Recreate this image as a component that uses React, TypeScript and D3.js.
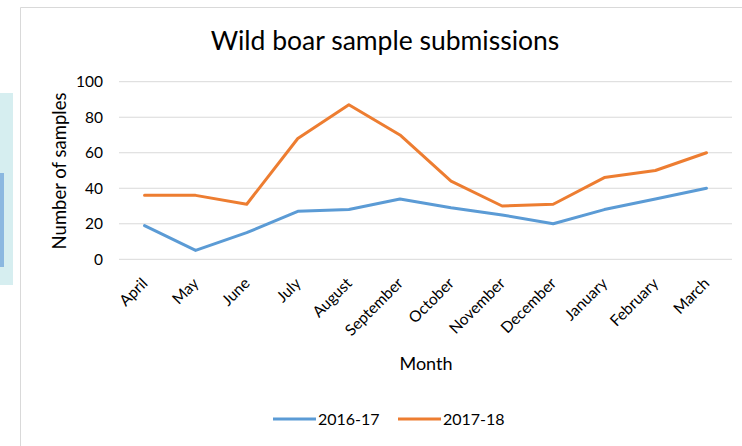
import React from 'react';
import * as d3 from 'd3';

// chart data
const months = ['April', 'May', 'June', 'July', 'August', 'September', 'October', 'November', 'December', 'January', 'February', 'March'];
const series1617 = [19, 5, 15, 27, 28, 34, 29, 25, 20, 28, 34, 40];
const series1718 = [36, 36, 31, 68, 87, 70, 44, 30, 31, 46, 50, 60];
const yTicks = [0, 20, 40, 60, 80, 100];
const seriesNames = ['2016-17', '2017-18'];
const seriesColors = ['#5b9bd5', '#ed7d31'];

const W = 742;
const H = 446;
const FONT = 'Lato, "Open Sans", sans-serif';

const App = () => {
  const margin = { top: 81.7, right: 10, bottom: 186.7, left: 119 };
  const innerW = 732 - margin.left;
  const innerH = 259.3 - margin.top;

  const x = d3.scaleBand().domain(months).range([0, innerW]);
  const y = d3.scaleLinear().domain([0, 100]).range([innerH, 0]);

  const line = d3.line<number>()
    .x((d, i) => x(months[i])! + x.bandwidth() / 2)
    .y(d => y(d));

  const allSeries = [series1617, series1718];
  const legendX = [273, 398];

  return (
    <svg width={W} height={H} style={{ position: 'absolute', left: 0, top: 0, background: '#fff' }} fontFamily={FONT}>
      {/* cropped neighbour at the left edge */}
      <rect x={0} y={93} width={13} height={192} fill="#d6eef0" />
      <rect x={0} y={173} width={4} height={94} fill="#8bb8e0" />

      {/* chart frame */}
      <line x1={20.5} y1={7.5} x2={20.5} y2={H} stroke="#d9d9d9" />
      <line x1={20.5} y1={7.5} x2={W} y2={7.5} stroke="#d9d9d9" />

      <text x={385} y={50} textAnchor="middle" fontSize={26.5} fill="#000">Wild boar sample submissions</text>

      <g transform={`translate(${margin.left}, ${margin.top})`}>
        {/* gridlines */}
        {yTicks.map(t => (
          <line key={t} x1={0} x2={innerW} y1={y(t)} y2={y(t)} stroke="#d9d9d9" strokeWidth={1} />
        ))}
        {/* y tick labels */}
        {yTicks.map(t => (
          <text key={'l' + t} x={-16} y={y(t)} dy="0.35em" textAnchor="end" fontSize={15.5} fill="#000">{t}</text>
        ))}
        {/* x tick labels */}
        {months.map(m => (
          <text key={m} transform={`translate(${x(m)! + x.bandwidth() / 2 + 4}, ${innerH + 25}) rotate(-45)`}
            textAnchor="end" fontSize={15.5} fill="#000">{m}</text>
        ))}
        {/* lines */}
        {allSeries.map((s, i) => (
          <path key={i} d={line(s)!} fill="none" stroke={seriesColors[i]} strokeWidth={3} strokeLinejoin="round" strokeLinecap="round" />
        ))}
      </g>

      <text transform="translate(66, 171) rotate(-90)" textAnchor="middle" fontSize={18.5} fill="#000">Number of samples</text>
      <text x={426} y={370} textAnchor="middle" fontSize={18} fill="#000">Month</text>

      {/* legend */}
      {seriesNames.map((n, i) => (
        <g key={n} transform={`translate(${legendX[i]}, 419)`}>
          <line x1={0} x2={43} y1={0} y2={0} stroke={seriesColors[i]} strokeWidth={3} />
          <text x={45} y={0} dy="0.35em" fontSize={16} fill="#000">{n}</text>
        </g>
      ))}
    </svg>
  );
};

export default App;
